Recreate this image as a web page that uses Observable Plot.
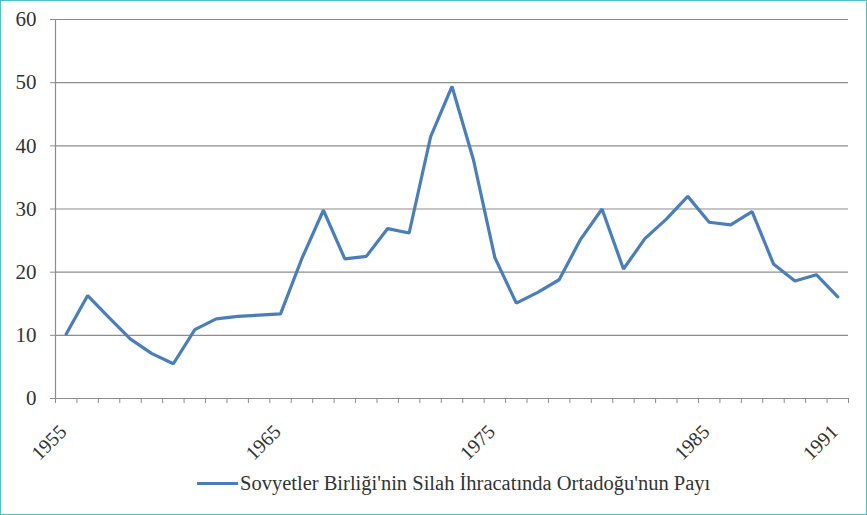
<!DOCTYPE html>
<html>
<head>
<meta charset="utf-8">
<script src="https://cdn.jsdelivr.net/npm/d3@7"></script>
<script src="https://cdn.jsdelivr.net/npm/@observablehq/plot@0.6"></script>
<style>
  html, body { margin: 0; padding: 0; background: #fff; }
  #frame { width: 867px; height: 515px; box-sizing: border-box; border: 1.5px solid #4fc3c9; position: relative; overflow: hidden; background: #fff; }
  #legend { position: absolute; left: 196px; top: 471px; font-family: "Liberation Serif", "DejaVu Serif", serif; font-size: 20.5px; color: #333; display: flex; align-items: center; white-space: nowrap; }
  #legend .sw { display: inline-block; width: 41px; height: 3px; background: #4a7ebb; margin-right: 2px; }
  #chart svg text { font-family: "Liberation Serif", "DejaVu Serif", serif; }
</style>
</head>
<body>
<div id="frame"><div id="chart"></div><div id="legend"><span class="sw"></span><span id="legtext"></span></div></div>
<script>
const years = [1955,1956,1957,1958,1959,1960,1961,1962,1963,1964,1965,1966,1967,1968,1969,1970,1971,1972,1973,1974,1975,1976,1977,1978,1979,1980,1981,1982,1983,1984,1985,1986,1987,1988,1989,1990,1991];
const shares = [10.2,16.3,12.8,9.4,7.1,5.5,10.9,12.6,13.0,13.2,13.4,22.2,29.8,22.1,22.5,26.9,26.2,41.4,49.4,37.8,22.3,15.1,16.8,18.8,25.2,30.0,20.5,25.3,28.4,32.0,27.9,27.5,29.6,21.3,18.6,19.6,16.1];
const yTicks = [0,10,20,30,40,50,60];
const xLabelYears = [1955,1965,1975,1985,1991];
const seriesName = "Sovyetler Birliği'nin Silah İhracatında Ortadoğu'nun Payı";

const data = years.map((y, i) => ({year: y, value: shares[i]}));
const boundaries = years.map(y => y - 0.5).concat([years[years.length - 1] + 0.5]);
const xMin = years[0] - 0.5, xMax = years[years.length - 1] + 0.5;

const chart = Plot.plot({
  width: 864,
  height: 468,
  marginLeft: 54,
  marginRight: 17,
  marginTop: 18,
  marginBottom: 71,
  style: {fontFamily: "'Liberation Serif', serif", fontSize: "21px", color: "#333", background: "#fff"},
  x: {domain: [xMin, xMax], axis: null},
  y: {domain: [0, 60]},
  marks: [
    Plot.gridY(yTicks, {stroke: "#8c8c8c", strokeOpacity: 1, strokeWidth: 1.2}),
    Plot.ruleX([xMin], {stroke: "#8c8c8c", strokeWidth: 1.2}),
    Plot.axisY({ticks: yTicks, tickSize: 5, tickPadding: 14, stroke: "#8c8c8c", fill: "#333", fontSize: 21, label: null}),
    Plot.axisX({ticks: boundaries, tickSize: 5, tickFormat: () => "", stroke: "#8c8c8c", label: null}),
    Plot.text(xLabelYears, {x: d => d, y: () => 0, text: d => String(d), rotate: -45, textAnchor: "end", lineAnchor: "middle", dx: -3, dy: 30, fontSize: 20, fill: "#333"}),
    Plot.ruleY([0], {stroke: "#8c8c8c", strokeWidth: 1.2}),
    Plot.line(data, {x: "year", y: "value", stroke: "#4a7ebb", strokeWidth: 3.2, strokeLinejoin: "miter"})
  ]
});
document.getElementById("chart").appendChild(chart);
document.getElementById("legtext").textContent = seriesName;
</script>
</body>
</html>
